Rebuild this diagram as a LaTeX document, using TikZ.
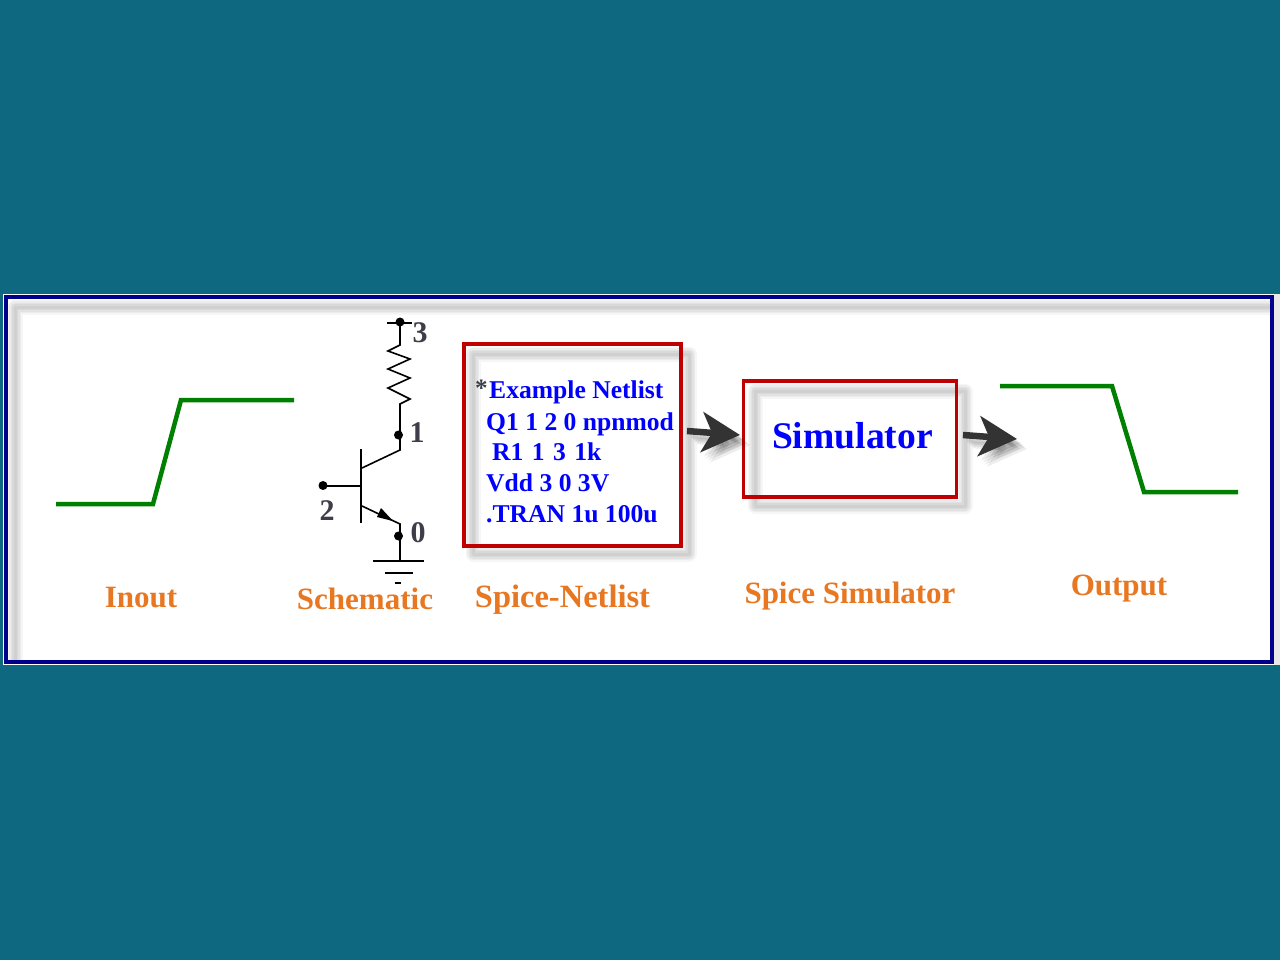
\documentclass[tikz,border=0pt]{standalone}
\usepackage{fontspec}
\setmainfont{Liberation Serif}
\usetikzlibrary{arrows.meta}
\definecolor{bgteal}{HTML}{0E6880}
\definecolor{framenavy}{HTML}{00008B}
\definecolor{boxred}{HTML}{C00000}
\definecolor{wavegreen}{HTML}{008000}
\definecolor{caporange}{HTML}{E87722}
\definecolor{textblue}{HTML}{0000FF}
\definecolor{digitgray}{HTML}{3E3E4A}
\definecolor{arrowdark}{HTML}{333333}
\tikzset{
  wave/.style={draw=wavegreen,line width=4.5pt,line join=miter},
  caption/.style={font=\bfseries\fontsize{31}{31}\selectfont,text=caporange,inner sep=0pt,anchor=base},
  netline/.style={font=\bfseries\fontsize{25.6}{26}\selectfont,text=textblue,inner sep=0pt,anchor=base west},
  redbox/.style={draw=boxred,line width=3.3pt,inner sep=0pt,outer sep=0pt},
  digit/.style={font=\bfseries\fontsize{30}{30}\selectfont,text=digitgray,inner sep=0pt},
  wire/.style={draw=black,line width=1.6pt},
  junction/.style={circle,fill=black,inner sep=0pt,minimum size=9pt},
  bigarrow/.style={draw=arrowdark,line width=6.5pt,-{Stealth[length=38pt,width=40pt,inset=10pt]}}
}
\newcommand{\softframe}[4]{%
  \foreach \w/\o in {15/.035,12/.04,9/.04,6/.04,3/.04}{%
    \draw[line width=\w pt,black,opacity=\o,line join=round] (#1,#2) rectangle (#3,#4);
  }%
}
\begin{document}
\begin{tikzpicture}[x=1pt,y=-1pt]
\useasboundingbox (0,0) rectangle (1280,960);
\fill[bgteal] (0,0) rectangle (1280,960);
% panel
\fill[white] (3,294) rectangle (1280,665);
\fill[gray!18] (1274,294) rectangle (1280,665);
\begin{scope}
  \clip (6,297) rectangle (1272,662);
  \softframe{15}{307}{1320}{710}
\end{scope}
\draw[framenavy,line width=3.8pt] (6,297) rectangle (1272,662);
% waveforms
\draw[wave] (56,504) -- (153,504) -- (181,400) -- (294,400);
\draw[wave] (1000,386) -- (1112,386) -- (1144,492) -- (1238,492);
% schematic
\draw[wire] (387,323) -- (412,323);
\draw[wire,line join=miter] (400,323) -- (400,345) -- (388,351) -- (410,359) -- (388,369) -- (410,378) -- (388,388) -- (410,399) -- (400,404) -- (400,450) -- (362,468);
\draw[wire] (361,449) -- (361,523);
\draw[wire] (323,486) -- (361,486);
\draw[wire] (362,506) -- (400,524) -- (400,561);
\fill[black] (393,521) -- (381,508) -- (377,517) -- cycle;
\draw[wire] (373,561) -- (424,561);
\draw[wire] (385,573) -- (413,573);
\draw[wire] (395,583) -- (401,583);
\node[junction] (j3) at (400,322) {};
\node[junction] (j1) at (398.5,435) {};
\node[junction] (j2) at (323,485.5) {};
\node[junction] (j0) at (398.5,536) {};
\node[digit] (d3) at (420,333) {3};
\node[digit] (d1) at (417,433) {1};
\node[digit] (d2) at (327,511) {2};
\node[digit] (d0) at (418,533) {0};
% shadows of the boxes
\fill[white] (464,344) rectangle (681,546);
\softframe{473}{354}{689}{554}
\softframe{755}{391}{965}{506}
% red boxes
\node[redbox,anchor=north west,minimum width=217pt,minimum height=202pt] (netlist) at (464,344) {};
\node[redbox,anchor=north west,minimum width=213pt,minimum height=116pt] (sim) at (743.5,381) {};
% netlist text
\node[font=\bfseries\fontsize{25}{25}\selectfont,text=digitgray,inner sep=0pt,anchor=base west] (star) at (475,396) {*};
\node[netline] (l1) at (489,398) {Example Netlist};
\node[netline] (l2) at (486,430) {Q1 1 2 0 npnmod};
\node[netline] (l3) at (492,460) {R1\kern2pt{} 1\kern2pt{} 3\kern2pt{} 1k};
\node[netline] (l4) at (486,491) {Vdd 3 0 3V};
\node[netline] (l5) at (486,522) {.TRAN 1u 100u};
\node[font=\bfseries\fontsize{37.6}{38}\selectfont,text=textblue,inner sep=0pt] (simt) at (852.5,436) {Simulator};
% arrows
\coordinate (a1s) at (687,431);
\coordinate (a1e) at (740,435);
\coordinate (a2s) at (963,435);
\coordinate (a2e) at (1017,439);
\foreach \d in {4,6,8,10}{%
  \draw[bigarrow,draw=black,opacity=.07] ([shift={(\d,\d)}]a1s) -- ([shift={(\d,\d)}]a1e);
  \draw[bigarrow,draw=black,opacity=.07] ([shift={(\d,\d)}]a2s) -- ([shift={(\d,\d)}]a2e);
}
\draw[bigarrow] (a1s) -- (a1e);
\draw[bigarrow] (a2s) -- (a2e);
% captions
\node[caption] (c1) at (141,607) {Inout};
\node[caption] (c2) at (365,609) {Schematic};
\node[caption,font=\bfseries\fontsize{32.5}{32}\selectfont] (c3) at (562.5,607) {Spice-Netlist};
\node[caption] (c4) at (850,603) {Spice Simulator};
\node[caption] (c5) at (1119,595) {Output};
\end{tikzpicture}
\end{document}
